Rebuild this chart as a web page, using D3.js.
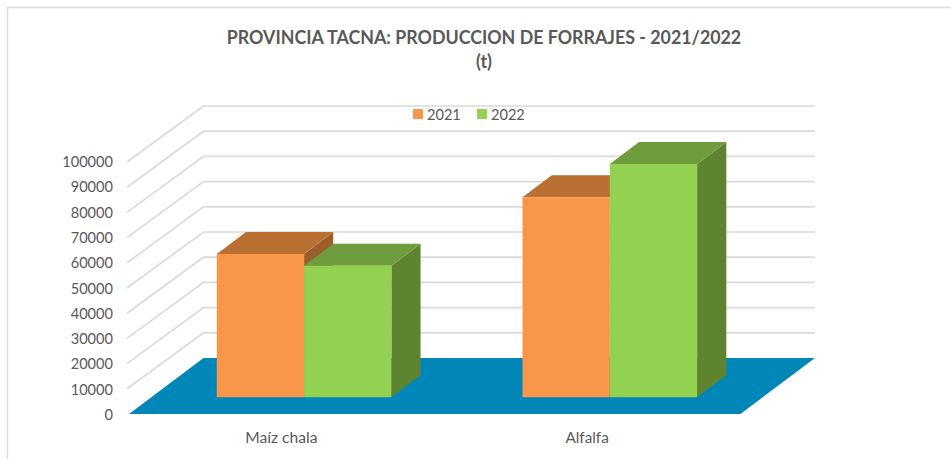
<!DOCTYPE html>
<html>
<head>
<meta charset="utf-8">
<script src="https://cdn.jsdelivr.net/npm/d3@7/dist/d3.min.js"></script>
<style>html,body{margin:0;padding:0;background:#fff}svg{display:block}text{font-family:Lato,"Open Sans",sans-serif}</style>
</head>
<body>
<svg id="c" width="951" height="459"></svg>
<script>
const categories = ["Maíz chala", "Alfalfa"];
const seriesNames = ["2021", "2022"];
const values2021 = [56900, 79400];
const values2022 = [52200, 92600];
const yTicks = [0,10000,20000,30000,40000,50000,60000,70000,80000,90000,100000];
const titleLines = ["PROVINCIA TACNA: PRODUCCION DE FORRAJES - 2021/2022", "(t)"];

const faces = {
  "2021": {front:"#F9964A", top:"#BA7032", side:"#9C5E2A"},
  "2022": {front:"#92D250", top:"#6F9C3C", side:"#5E8430"}
};
const svg = d3.select("#c");
const textCol = "#595959", gridCol = "#DADADA";

// squeezes a label horizontally so a taller face keeps the reference's width
function squeeze(sel, k){
  const n = sel.node();
  sel.attr("textLength", n.getComputedTextLength()*k).attr("lengthAdjust","spacingAndGlyphs");
  return sel;
}

// frame
svg.append("path").attr("d","M7.5,459V7.5H951").attr("fill","none").attr("stroke","#DDDDDD").attr("stroke-width",1.6);

// scales
const x = d3.scaleBand().domain(categories).range([129,740.5]);
const y = d3.scaleLinear().domain([0,100000]).range([414,162]);
const labelY = d3.scaleLinear().domain([0,100000]).range([420,167]);
const depth = d3.scaleLinear().domain([0,1]).range([0,1]);
const DX = 74.5, DY = -56;
const P = (px,v,d) => [px + DX*depth(d), y(v) + DY*depth(d)];
const pathOf = pts => d3.line()(pts) + "Z";

// gridlines: side and back wall
const g = svg.append("g").attr("fill","none").attr("stroke",gridCol).attr("stroke-width",1.7);
yTicks.slice(1).forEach(t=>{
  g.append("polyline").attr("points",[P(127,t,0),P(129,t,1),P(740.5,t,1)].map(p=>p.join(",")).join(" "));
});

// floor
svg.append("path").attr("d",pathOf([P(129,0,0),P(129,0,1),P(740.5,0,1),P(740.5,0,0)])).attr("fill","#0087B7");

// bars, drawn left to right so each bar covers its left neighbour's side face
const barW = 87.3;
const inner = d3.scaleBand().domain(seriesNames).range([0,barW*2]);
const d0 = 0.298, d1 = 0.69;
const seriesVals = {"2021":values2021,"2022":values2022};
const bars = svg.append("g");
categories.forEach((c,ci)=>{
  const start = x(c) + (x.bandwidth()-barW*2)/2;
  seriesNames.forEach(s=>{
    const v = seriesVals[s][ci], L = start+inner(s), R = L+inner.bandwidth(), f = faces[s];
    bars.append("path").attr("d",pathOf([P(R,0,d0),P(R,0,d1),P(R,v,d1),P(R,v,d0)])).attr("fill",f.side);
    bars.append("path").attr("d",pathOf([P(L,v,d0),P(L,v,d1),P(R,v,d1),P(R,v,d0)])).attr("fill",f.top);
    bars.append("path").attr("d",pathOf([P(L,0,d0),P(L,v,d0),P(R,v,d0),P(R,0,d0)])).attr("fill",f.front);
  });
});

// axis labels
const axisG = svg.append("g").attr("fill",textCol).attr("font-size",15.6);
yTicks.forEach(t=>{
  squeeze(axisG.append("text").attr("x",113).attr("y",labelY(t)).attr("text-anchor","end").text(t), 0.935);
});
categories.forEach((c,i)=>{
  squeeze(axisG.append("text").attr("x",x(c)+x.bandwidth()/2-0.5).attr("y",443).attr("text-anchor","middle").text(c), i===0?1.0:0.98);
});

// title
titleLines.forEach((t,i)=>{
  const tx = svg.append("text").attr("x",484).attr("y",43.5+i*24).attr("text-anchor","middle")
    .attr("font-size",19).attr("font-weight",700).attr("fill",textCol).text(t);
  squeeze(tx, 0.937);
});

// legend
const legendX = d3.scaleOrdinal().domain(seriesNames).range([413,477]);
seriesNames.forEach(s=>{
  svg.append("rect").attr("x",legendX(s)).attr("y",109).attr("width",10).attr("height",10).attr("fill",faces[s].front);
  squeeze(svg.append("text").attr("x",legendX(s)+14).attr("y",119.5).attr("font-size",15.6).attr("fill",textCol).text(s), 0.935);
});
</script>
</body>
</html>
